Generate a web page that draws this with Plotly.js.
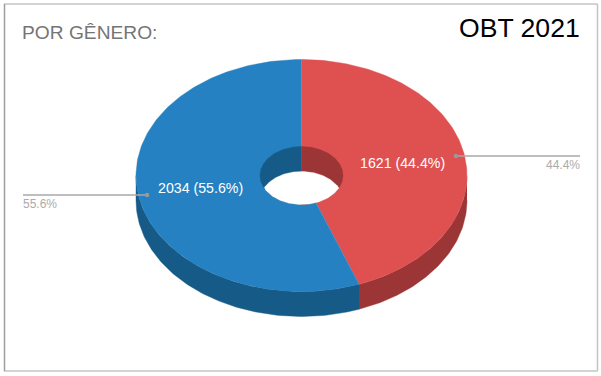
<!DOCTYPE html>
<html>
<head>
<meta charset="utf-8">
<script src="https://cdn.plot.ly/plotly-3.0.1.min.js"></script>
<style>html,body{margin:0;padding:0;background:#fff}#c{width:601px;height:376px}</style>
</head>
<body>
<div id="c"></div>
<script>
const categories = ["Feminino", "Masculino"];
const values = [1621, 2034];
const percents = ["44.4%", "55.6%"];
const topColors = ["#df5050", "#2581c1"];
const wallColors = ["#9c3535", "#165a88"];

// Projected-donut geometry in the chart's own axis units
const cx = 301.5, cy = 175.5, rx = 165.5, ry = 116, hrx = 41.5, hry = 29, depth = 25;
const total = values.reduce((a, b) => a + b, 0);
const starts = [0, values[0] / total * 360];
const ends = [values[0] / total * 360, 360];
const rad = d => d * Math.PI / 180;
const px = (a, r = 1) => cx + rx * r * Math.sin(rad(a));
const py = (a, r = 1, dz = 0) => cy - ry * r * Math.cos(rad(a)) + dz;

function arc(a0, a1, fx, fy) {
  const out = [], n = Math.max(2, Math.ceil(Math.abs(a1 - a0)));
  for (let i = 0; i <= n; i++) {
    const a = a0 + (a1 - a0) * i / n;
    out.push([fx(a), fy(a)]);
  }
  return out;
}
function poly(points, color) {
  return {
    type: "scatter", mode: "lines", fill: "toself", fillcolor: color,
    x: points.map(p => p[0]), y: points.map(p => p[1]),
    line: { width: 0.4, color: color }, hoverinfo: "skip", showlegend: false
  };
}
const traces = [];
// outer walls (front of the ellipse only)
[[90, ends[0], 0], [ends[0], 270, 1]].forEach(([a0, a1, i]) => {
  const upper = arc(a0, a1, a => px(a), a => py(a));
  const lower = arc(a1, a0, a => px(a), a => py(a, 1, depth));
  traces.push(poly(upper.concat(lower), wallColors[i]));
});
// top faces
values.forEach((v, i) => {
  const pts = [[cx, cy]].concat(arc(starts[i], ends[i], a => px(a), a => py(a)));
  traces.push(poly(pts, topColors[i]));
});
// inner hole walls
const hx = a => cx + hrx * Math.sin(rad(a));
const hy = (a, dz = 0) => cy - hry * Math.cos(rad(a)) + dz;
traces.push(poly(arc(0, 180, hx, a => hy(a)), wallColors[0]));
traces.push(poly(arc(180, 360, hx, a => hy(a)), wallColors[1]));
// see-through part of the hole
const meet = Math.acos(-depth / 2 / hry) * 180 / Math.PI; // lower-arc angle where the two ellipses cross
const see = arc(meet, 360 - meet, hx, a => hy(a))
  .concat(arc(360 - (180 - meet), 360 + (180 - meet), hx, a => hy(a, depth)));
traces.push(poly(see, "#ffffff"));

// leader lines and dots, anchored on each slice's mid angle
const leaderEnds = [580, 23];
const mids = values.map((v, i) => (starts[i] + ends[i]) / 2);
mids.forEach((m, i) => {
  const x0 = px(m, 0.948), y0 = py(m, 0.948);
  traces.push({
    type: "scatter", mode: "lines", x: [x0, leaderEnds[i]], y: [y0, y0],
    line: { color: "#a8a8a8", width: 1.5 }, hoverinfo: "skip", showlegend: false
  });
  traces.push({
    type: "scatter", mode: "markers", x: [x0], y: [y0],
    marker: { color: "#999999", size: 4.5 }, hoverinfo: "skip", showlegend: false
  });
});

const font = "Liberation Sans, Arial, sans-serif";
const annotations = [];
values.forEach((v, i) => {
  annotations.push({
    x: px(mids[i], 0.623), y: py(mids[i], 0.623), xref: "x", yref: "y",
    text: v + " (" + percents[i] + ")", showarrow: false,
    font: { family: font, size: 14.2, color: "#ffffff" }, xanchor: "center", yanchor: "middle"
  });
  annotations.push({
    x: leaderEnds[i] + (i === 0 ? 0.5 : -1), y: py(mids[i], 0.948) + 9, xref: "x", yref: "y",
    text: percents[i], showarrow: false,
    xanchor: i === 0 ? "right" : "left", yanchor: "middle",
    font: { family: font, size: 12, color: "#ababab" }, borderpad: 0
  });
});
annotations.push({
  x: 20.5, y: 32, xref: "x", yref: "y", text: "POR GÊNERO:", showarrow: false,
  xanchor: "left", yanchor: "middle", borderpad: 0,
  font: { family: font, size: 19.2, color: "#757575" }
});
annotations.push({
  x: 581, y: 27.5, xref: "x", yref: "y", text: "OBT 2021", showarrow: false,
  xanchor: "right", yanchor: "middle", borderpad: 0,
  font: { family: font, size: 26.6, color: "#000000" }
});

const hidden = { visible: false, fixedrange: true };
const frame = { xref: "x", yref: "y", type: "line", layer: "below" };
Plotly.newPlot("c", traces, {
  width: 601, height: 376,
  margin: { l: 0, r: 0, t: 0, b: 0, pad: 0 },
  paper_bgcolor: "#ffffff", plot_bgcolor: "#ffffff",
  showlegend: false,
  xaxis: Object.assign({ range: [0, 601] }, hidden),
  yaxis: Object.assign({ range: [376, 0] }, hidden),
  annotations: annotations,
  shapes: [
    Object.assign({ x0: 4, y0: 4, x1: 597.5, y1: 4, line: { color: "#c4c4c4", width: 1.5 } }, frame),
    Object.assign({ x0: 597.5, y0: 4, x1: 597.5, y1: 371, line: { color: "#c4c4c4", width: 1.5 } }, frame),
    Object.assign({ x0: 4, y0: 371, x1: 597.5, y1: 371, line: { color: "#c4c4c4", width: 1.5 } }, frame),
    Object.assign({ x0: 4.5, y0: 4, x1: 4.5, y1: 371, line: { color: "#9e9e9e", width: 1.5 } }, frame)
  ]
}, { displayModeBar: false, staticPlot: true });
</script>
</body>
</html>
